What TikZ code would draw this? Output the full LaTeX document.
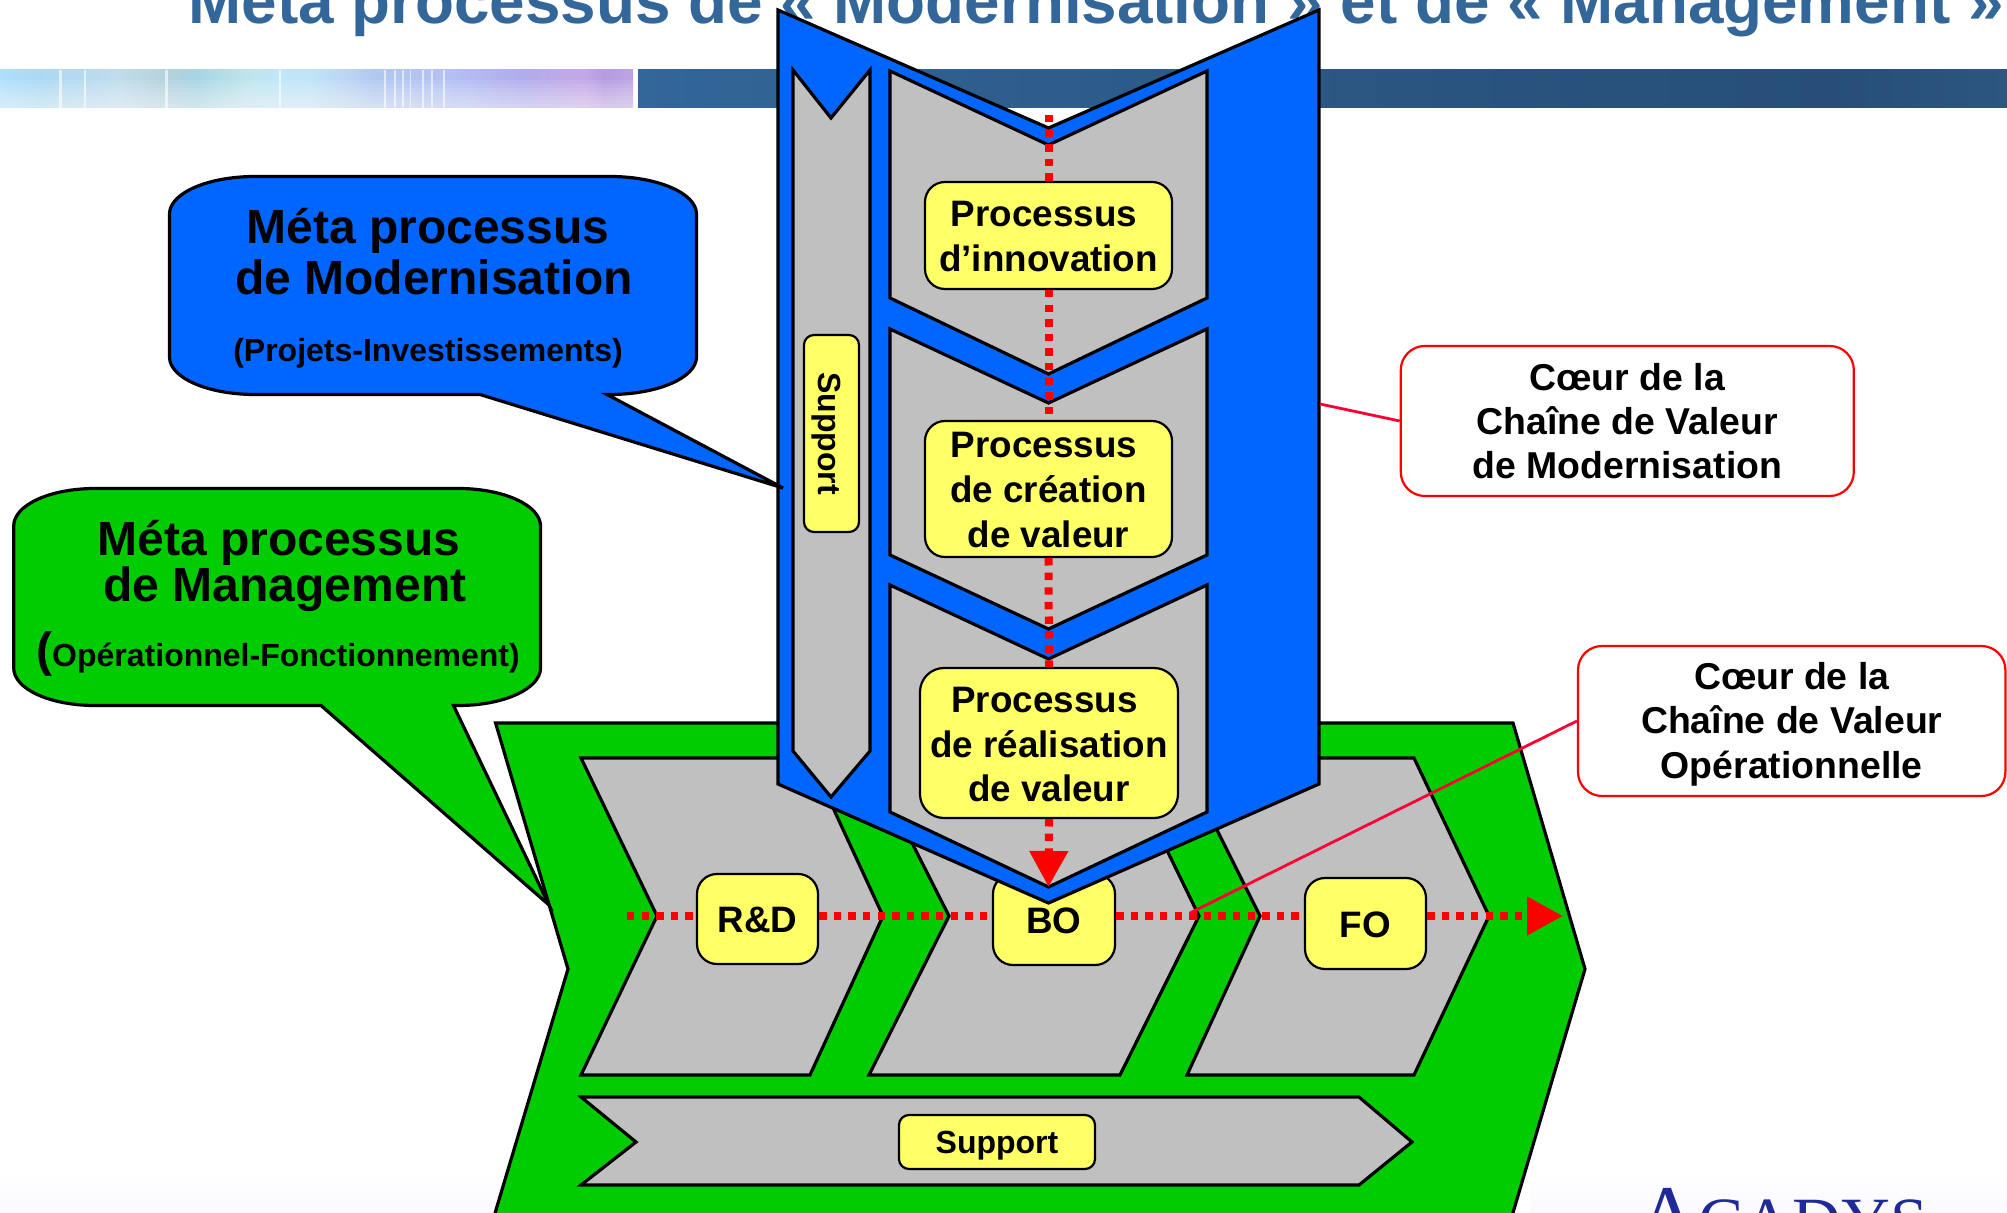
\documentclass[tikz,border=0pt]{standalone}
\usepackage{fontspec}
\setmainfont{Liberation Sans}
\newfontfamily\logofont{Liberation Serif}
\usetikzlibrary{arrows.meta}
\definecolor{bluefill}{HTML}{0066FF}
\definecolor{greenfill}{HTML}{00CC00}
\definecolor{greyfill}{HTML}{C0C0C0}
\definecolor{yellowfill}{HTML}{FFFF66}
\definecolor{titleblue}{HTML}{336699}
\definecolor{callred}{HTML}{FF0033}
\definecolor{logoblue}{HTML}{1F2A96}
\definecolor{bandmid}{HTML}{2A5580}
\definecolor{banddark}{HTML}{264E78}
\definecolor{bandend}{HTML}{2C5580}
\definecolor{s0}{HTML}{B0DFFC}
\definecolor{s1}{HTML}{ABD9F4}
\definecolor{s2}{HTML}{C0DCEC}
\definecolor{s3}{HTML}{B5D2DC}
\definecolor{s4}{HTML}{A8D4E4}
\definecolor{s5}{HTML}{BEE4EC}
\definecolor{s6}{HTML}{C0E6F8}
\definecolor{s7}{HTML}{C0E4F8}
\definecolor{s8}{HTML}{BCD4F4}
\definecolor{s9}{HTML}{B0C8F0}
\definecolor{s10}{HTML}{B4C0F4}
\definecolor{s11}{HTML}{B0ACEC}
\definecolor{s12}{HTML}{C4A8E8}
\definecolor{s13}{HTML}{B49CE0}
\definecolor{s14}{HTML}{BCA4E4}
\newcommand\tx[2]{\raisebox{-#1}[\height][\depth]{\begin{tabular}{@{}c@{}}#2\end{tabular}}}
\tikzset{
  outline/.style={draw=black,line width=1.6pt,line join=miter},
  greenshape/.style={outline,fill=greenfill},
  blueshape/.style={outline,fill=bluefill},
  greyshape/.style={outline,fill=greyfill},
  ybox/.style={draw=black,fill=yellowfill,line width=1.1pt,rounded corners=10pt,inner sep=0pt,
    font=\fontsize{18.4}{22.4}\selectfont\bfseries},
  sbox/.style={ybox,rounded corners=5pt,font=\fontsize{16}{19}\selectfont\bfseries},
  callbox/.style={draw=red,fill=white,line width=1.1pt,rounded corners=12pt,inner sep=0pt,
    font=\fontsize{18.7}{22.15}\selectfont\bfseries},
  callline/.style={draw=callred,line width=1.4pt},
  reddash/.style={draw=red,line width=4pt,dash pattern=on 3.7pt off 3.6pt},
  redarrow/.style={reddash,-{Triangle[width=18.5pt,length=18pt]}},
  bigtxt/.style={anchor=base,inner sep=0pt,font=\fontsize{24}{26}\selectfont\bfseries},
  smalltxt/.style={anchor=base,inner sep=0pt,font=\fontsize{16}{18}\selectfont\bfseries},
}
\begin{document}
\begin{tikzpicture}[x=0.5pt,y=-0.5pt]
\clip (0,0) rectangle (2007,1213);
\fill[white] (0,0) rectangle (2007,1213);
% faint footer
\shade[top color=white,bottom color=white!98!blue] (0,1172) rectangle (500,1213);
\shade[top color=white,bottom color=white!98!blue] (1530,1172) rectangle (2007,1213);
% band, left part
\foreach \xa/\xb/\ca/\cb in {0/41/s0/s1,41/122/s1/s2,122/163/s2/s3,163/196/s3/s4,196/245/s4/s5,245/278/s5/s6,278/310/s6/s7,310/347/s7/s8,347/375/s8/s9,375/449/s9/s10,449/522/s10/s11,522/584/s11/s12,584/604/s12/s13,604/633/s13/s14}{
  \shade[left color=\ca,right color=\cb] (\xa-0.4,70) rectangle (\xb,108);}
\foreach \yy in {80,84,88,92,96,100,104}{\fill[white,opacity=0.09] (0,\yy) rectangle (633,108);}
\foreach \xx/\ww in {59/3,84/2.4,165/2.6,279/2.4,384/2,394/2,402/2,410/1.4,422/2.4,431/2,443/1.6}{\fill[white,opacity=0.6] (\xx,70) rectangle (\xx+\ww,108);}
% band, right part
\shade[left color=titleblue,right color=bandmid] (638,70) rectangle (1400,108);
\shade[left color=bandmid,right color=banddark] (1399.5,70) rectangle (1829,108);
\shade[left color=banddark,right color=bandend] (1828.5,70) rectangle (2007,108);
% title
\node[anchor=base west,inner sep=0pt,text=titleblue,font=\fontsize{31.9}{34}\selectfont\bfseries] (title) at (188,24) {Méta processus de « Modernisation » et de « Management »};
% logo
\node[anchor=base west,inner sep=0pt,text=logoblue] (logo) at (1637,1244) {\logofont\fontsize{42.5}{44}\selectfont A\fontsize{33.8}{36}\selectfont CADYS};
% green value chain
\draw[greenshape] (495.6,723) -- (1513,723) -- (1585,969) -- (1499,1260) -- (481,1260) -- (568,969) -- cycle;
\draw[greyshape] (581,758) -- (810,758) -- (883,916) -- (810,1075) -- (581,1075) -- (657,916) -- cycle;
\draw[greyshape] (869,758) -- (1122,758) -- (1199,916) -- (1120,1075) -- (869,1075) -- (949,916) -- cycle;
\draw[greyshape] (1181,758) -- (1414,758) -- (1489,916) -- (1414,1075) -- (1187,1075) -- (1260,916) -- cycle;
\draw[greyshape] (581,1097) -- (1359,1097) -- (1412,1142) -- (1359,1185) -- (581,1185) -- (636,1142) -- cycle;
% boxes of the operational chain
\node[ybox,minimum width=60.5pt,minimum height=45pt] (rd) at (757.5,919) {\tx{2.5pt}{R\&D}};
\node[ybox,minimum width=61pt,minimum height=45.5pt] (bo) at (1054,919.5) {\tx{2.5pt}{BO}};
\node[ybox,minimum width=60.5pt,minimum height=45.5pt] (fo) at (1365.5,923.5) {\tx{2.6pt}{FO}};
\node[sbox,minimum width=98pt,minimum height=27pt] (supb) at (997,1142) {\tx{1.75pt}{Support}};
% horizontal flow
\coordinate (hstart) at (627,916);
\coordinate (hend) at (1563,916);
\draw[reddash] (hstart) -- (rd.west|-hstart);
\draw[reddash] (rd.east|-hstart) -- (bo.west|-hstart);
\draw[reddash] (bo.east|-hstart) -- (fo.west|-hstart);
\draw[redarrow] (fo.east|-hstart) -- (hend);
% blue modernisation chain
\draw[blueshape] (778,10) -- (1048.5,128) -- (1319,10) -- (1319,784) -- (1048.5,903) -- (778,784) -- cycle;
\draw[greyshape] (793,70) -- (831,118) -- (870,70) -- (870,751) -- (831,797) -- (793,751) -- cycle;
\draw[greyshape] (890,71) -- (1048.5,145) -- (1207,71) -- (1207,298) -- (1048.5,374) -- (890,298) -- cycle;
\draw[greyshape] (890,329) -- (1048.5,403) -- (1207,329) -- (1207,555) -- (1048.5,629) -- (890,555) -- cycle;
\draw[greyshape] (890,585) -- (1048.5,659) -- (1207,585) -- (1207,812) -- (1048.5,887) -- (890,812) -- cycle;
% boxes of the modernisation chain
\node[ybox,minimum width=123.5pt,minimum height=53.5pt] (inno) at (1048.5,235.5) {\tx{2.2pt}{Processus\hspace*{4.6pt}\\d’innovation}};
\node[ybox,minimum width=123.5pt,minimum height=68pt] (crea) at (1048.5,489) {\tx{2.4pt}{Processus\hspace*{4.6pt}\\de création\\de valeur}};
\node[ybox,rounded corners=12pt,minimum width=129pt,minimum height=75pt] (real) at (1049,743) {\tx{2.6pt}{Processus\hspace*{4.6pt}\\de réalisation\\de valeur}};
\node[sbox,rotate=-90,minimum width=98.5pt,minimum height=27.5pt] (supv) at (831.5,433.5) {\tx{2.5pt}{Support}};
% vertical flow
\coordinate (vstart) at (1048.5,115);
\coordinate (vend) at (1048.5,887);
\draw[reddash] (vstart) -- (inno.north);
\draw[reddash] (inno.south) -- (crea.north);
\draw[reddash] (crea.south) -- (real.north);
\draw[redarrow] (real.south) -- (vend);
% callouts
\draw[blueshape] (169.5,214) .. controls (169.5,193) and (208,176.5) .. (255,176.5) -- (610,176.5) .. controls (657,176.5) and (696.5,193) .. (696.5,214) -- (696.5,357) .. controls (696.5,378) and (657,394.5) .. (610,394.5) -- (607,394.5) -- (783,488) -- (480,394.5) -- (255,394.5) .. controls (208,394.5) and (169.5,378) .. (169.5,357) -- cycle;
\node[bigtxt] (bt1) at (428,243.3) {Méta processus};
\node[bigtxt] (bt2) at (434,295) {de Modernisation};
\node[smalltxt] (bt3) at (428,362) {(Projets-Investissements)};
\draw[greenshape] (13.7,526) .. controls (13.7,505) and (50,488.5) .. (95,488.5) -- (458.5,488.5) .. controls (503,488.5) and (540.5,505) .. (540.5,526) -- (540.5,668) .. controls (540.5,689) and (503,705.5) .. (458.5,705.5) -- (453.5,705.5) -- (549,905) -- (321,705.5) -- (95,705.5) .. controls (50,705.5) and (13.7,689) .. (13.7,668) -- cycle;
\node[bigtxt] (gt1) at (279,555.2) {Méta processus};
\node[bigtxt] (gt2) at (285,601.5) {de Management};
\node[smalltxt] (gt3) at (278,666) {{\fontsize{24}{26}\selectfont(}Opérationnel-Fonctionnement)};
% red callouts
\node[callbox,minimum width=226.5pt,minimum height=75pt] (cm) at (1627.3,421) {\tx{2.3pt}{Cœur de la\\Chaîne de Valeur\\de Modernisation}};
\node[callbox,minimum width=213.7pt,minimum height=75pt] (co) at (1791.7,721) {\tx{2pt}{Cœur de la\\Chaîne de Valeur\\Opérationnelle}};
\coordinate (cmend) at (1320,404);
\coordinate (coend) at (1190,913);
\draw[callline] (cm.west) -- (cmend);
\draw[callline] (co.west) -- (coend);
\end{tikzpicture}
\end{document}
